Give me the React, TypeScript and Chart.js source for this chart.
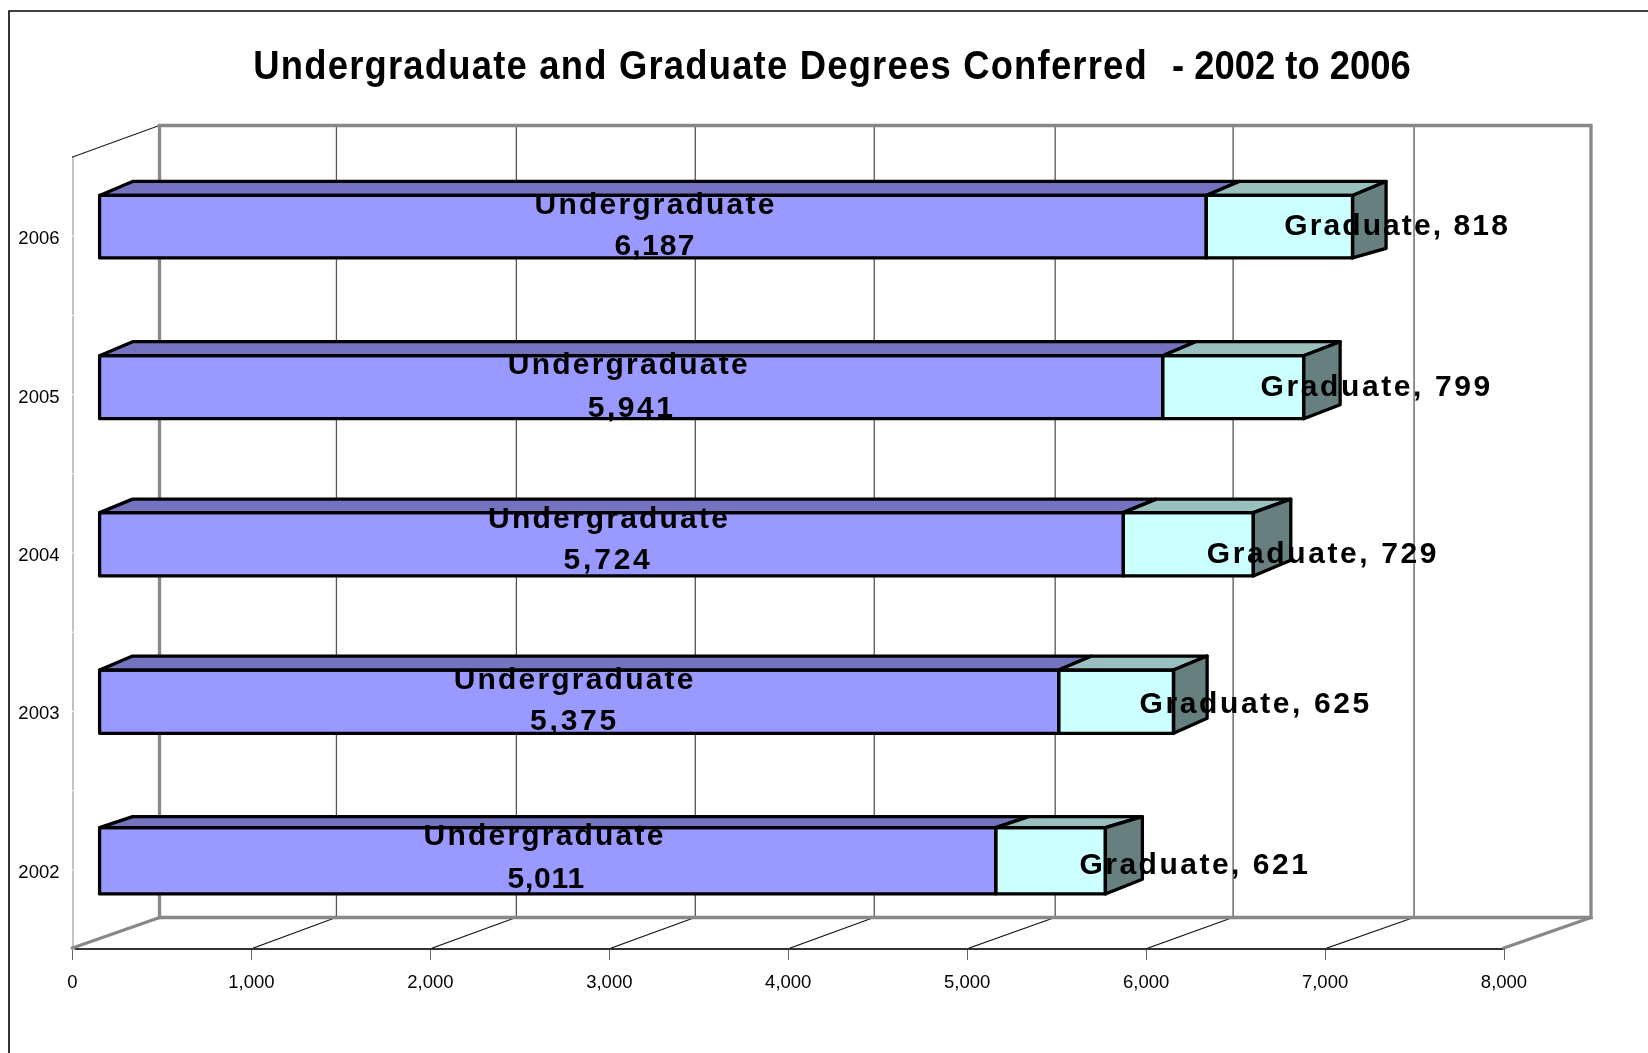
import React, { useEffect, useRef } from "react";
import { Chart, registerables } from "chart.js";

Chart.register(...registerables);

// ---- data ----
const years = ["2006", "2005", "2004", "2003", "2002"];
const undergraduate = [6187, 5941, 5724, 5375, 5011];
const graduate = [818, 799, 729, 625, 621];
const seriesNames = ["Undergraduate", "Graduate"];
const titleMain = "Undergraduate and Graduate Degrees Conferred";
const titleTail = "- 2002 to 2006";

// ---- layout tweaks (the original 3-D renderer is a little uneven per bar) ----
const FONT = '"Liberation Sans", Arial, sans-serif';
const WALL_DX = 87;
const WALL_DY = 31.5;
const BAR_SHIFT_X = 26.6;
const gridNudge = [0, -2, -1, -1, -1, 1, 0, 2, 0];
const barShiftY = [-9.5, -7.4, -8.7, -9.7, -9];
const barHeights = [62.5, 63, 63.3, 63.3, 66.3];
const ugEndNudge = [0, 0.5, 0, -2.2, 0];
const gradEndNudge = [0, -1.5, -0.5, 0.8, -1.5];
const depthTop = [14, 14, 13.5, 14, 11];
const depthEndBottom = [9.5, 14, 15.8, 15, 14.7];
const depthEndX = [33.5, 36.5, 37.5, 33.6, 37];
const ugLabelDx = [2.7, -2.3, -2.4, -4.5, -3.1];
const ugValueDx = [2.1, 0.5, -3.4, -4.6, -1.5];
const ugLabelDy = [0, 1, -4, 0, -2];
const ugWordDy = [0, -2, 0, 0, -2];
const ugValueSpacing = [1.2, 2.5, 2.8, 2.8, 0.8];
const gradLabelDx = [117.7, 143.5, 134.6, 139.6, 144.3];
const gradLabelDy = [0.5, 1, 10.7, 3.3, 5.2];
const gradSpacing = [2.1, 2.6, 2.6, 2.6, 2.5];

const fmt = (v: number) => v.toLocaleString("en-US");

function line(ctx: any, pts: number[][], color: string, width: number) {
  ctx.save();
  ctx.strokeStyle = color;
  ctx.lineWidth = width;
  ctx.lineJoin = "miter";
  ctx.lineCap = "square";
  ctx.beginPath();
  pts.forEach((p, i) => (i ? ctx.lineTo(p[0], p[1]) : ctx.moveTo(p[0], p[1])));
  ctx.stroke();
  ctx.restore();
}

function poly(ctx: any, pts: number[][], fill: string) {
  ctx.save();
  ctx.fillStyle = fill;
  ctx.strokeStyle = "#000";
  ctx.lineWidth = 3.3;
  ctx.lineJoin = "round";
  ctx.beginPath();
  pts.forEach((p, i) => (i ? ctx.lineTo(p[0], p[1]) : ctx.moveTo(p[0], p[1])));
  ctx.closePath();
  ctx.fill();
  ctx.stroke();
  ctx.restore();
}

function text(
  ctx: any,
  s: string,
  x: number,
  y: number,
  font: string,
  spacing: number,
  align: string,
  baseline: string,
  scaleX = 1
) {
  ctx.save();
  ctx.translate(x, y);
  ctx.scale(scaleX, 1);
  ctx.font = font;
  ctx.fillStyle = "#000";
  ctx.textAlign = align;
  ctx.textBaseline = baseline;
  ctx.letterSpacing = spacing + "px";
  ctx.fillText(s, 0, 0);
  ctx.restore();
}

const box3d = {
  id: "box3d",
  afterDatasetsUpdate(chart: any) {
    const ug = chart.getDatasetMeta(0).data;
    const gr = chart.getDatasetMeta(1).data;
    years.forEach((_, i) => {
      const a = ug[i];
      const b = gr[i];
      a.base += BAR_SHIFT_X;
      a.x += BAR_SHIFT_X + ugEndNudge[i];
      b.base += BAR_SHIFT_X + ugEndNudge[i];
      b.x += BAR_SHIFT_X + gradEndNudge[i];
      [a, b].forEach((el: any) => {
        el.y += barShiftY[i];
        el.height = barHeights[i];
      });
    });
  },
  beforeDraw(chart: any) {
    const ctx = chart.ctx;
    line(ctx, [[9, 1053], [9, 11], [1648, 11]], "#000", 1.6);
    text(ctx, titleMain, 253.3, 79, `bold 40px ${FONT}`, 1.33, "left", "alphabetic", 0.91);
    text(ctx, titleTail, 1172, 79, `bold 40px ${FONT}`, 0, "left", "alphabetic", 0.91);
  },
  beforeDatasetsDraw(chart: any) {
    const ctx = chart.ctx;
    const { left, right, top, bottom } = chart.chartArea;
    const xs = chart.scales.x;
    const wallL = left + WALL_DX;
    const wallR = right + WALL_DX;
    const wallT = top - WALL_DY;
    const wallB = bottom - WALL_DY;
    // white notches on the left axis
    const ys = chart.scales.y;
    const band = (ys.getPixelForTick(1) - ys.getPixelForTick(0)) / 2;
    ctx.save();
    ctx.fillStyle = "#fff";
    for (let i = 0; i < years.length; i++) {
      const py = ys.getPixelForTick(i);
      ctx.fillRect(left - 0.5, py - 0.5, 3, 1);
      ctx.fillRect(left - 0.5, py + band - 0.5, 3, 1);
    }
    ctx.restore();
    // back wall grid and floor
    xs.ticks.forEach((t: any, i: number) => {
      const px = xs.getPixelForValue(t.value);
      if (t.value > 0 && t.value < xs.max) {
        const gx = px + WALL_DX + gridNudge[i];
        line(ctx, [[gx, wallT], [gx, wallB]], "#555", 1.3);
        line(ctx, [[px + 2, bottom - 1], [gx - 3, wallB + 1]], "#111", 1.1);
      }
    });
    line(ctx, [[left, top], [wallL, wallT]], "#222", 1.1);
    line(ctx, [[left, bottom - 1], [wallL, wallB]], "#888", 3.3);
    line(ctx, [[right, bottom - 1], [wallR, wallB]], "#888", 3.3);
    line(ctx, [[wallL, wallB], [wallL, wallT], [wallR, wallT], [wallR, wallB], [wallL, wallB]], "#888", 3.3);
  },
  afterDatasetsDraw(chart: any) {
    const ctx = chart.ctx;
    const ug = chart.getDatasetMeta(0).data;
    const gr = chart.getDatasetMeta(1).data;
    years.forEach((_, i) => {
      const a = ug[i];
      const b = gr[i];
      const t = a.y - a.height / 2;
      const bm = a.y + a.height / 2;
      const x0 = a.base;
      const x1 = a.x;
      const x2 = b.x;
      const d = depthTop[i];
      const ex = depthEndX[i];
      poly(ctx, [[x0, t], [x0 + 33, t - d], [x1 + 33, t - d], [x1, t]], "#7373BF");
      poly(ctx, [[x1, t], [x1 + 33, t - d], [x2 + ex, t - d], [x2, t]], "#99BFBF");
      poly(ctx, [[x2, t], [x2 + ex, t - d], [x2 + ex, bm - depthEndBottom[i]], [x2, bm]], "#668080");
      ctx.save();
      ctx.strokeStyle = "#000";
      ctx.lineWidth = 3.3;
      ctx.lineJoin = "round";
      ctx.strokeRect(x0, t, x1 - x0, bm - t);
      ctx.strokeRect(x1, t, x2 - x1, bm - t);
      ctx.restore();
    });
    const font = `bold 30px ${FONT}`;
    years.forEach((_, i) => {
      const a = ug[i];
      const b = gr[i];
      const cx = (a.base + a.x) / 2;
      const cy = a.y + ugLabelDy[i];
      text(ctx, seriesNames[0], cx + ugLabelDx[i], cy - 20.5 + ugWordDy[i], font, 2.2, "center", "middle");
      text(ctx, fmt(undergraduate[i]), cx + ugValueDx[i], cy + 20.5, font, ugValueSpacing[i], "center", "middle");
      text(
        ctx,
        `${seriesNames[1]}, ${fmt(graduate[i])}`,
        (a.x + b.x) / 2 + gradLabelDx[i],
        a.y + gradLabelDy[i],
        font,
        gradSpacing[i],
        "center",
        "middle"
      );
    });
  },
};

export default function App() {
  const ref = useRef<HTMLCanvasElement>(null);
  useEffect(() => {
    const chart = new Chart(ref.current as HTMLCanvasElement, {
      type: "bar",
      data: {
        labels: years,
        datasets: [
          { label: seriesNames[0], data: undergraduate, backgroundColor: "#9999FF", borderWidth: 0 },
          { label: seriesNames[1], data: graduate, backgroundColor: "#CCFFFF", borderWidth: 0 },
        ],
      },
      options: {
        indexAxis: "y",
        responsive: false,
        animation: false,
        layout: { padding: { top: 157, right: 144, left: 0, bottom: 0 } },
        plugins: { legend: { display: false }, title: { display: false }, tooltip: { enabled: false } },
        datasets: { bar: { barThickness: 63 } },
        scales: {
          x: {
            type: "linear",
            stacked: true,
            min: 0,
            max: 8000,
            afterFit: (s: any) => {
              s.height = 104;
            },
            ticks: {
              stepSize: 1000,
              maxRotation: 0,
              padding: 12,
              color: "#000",
              font: { family: FONT, size: 18.5 },
              callback: (v: any) => fmt(Number(v)),
            },
            grid: { drawOnChartArea: false, drawTicks: true, tickLength: 11, color: "#666", lineWidth: 1 },
            border: { display: true, color: "#333", width: 2 },
          },
          y: {
            type: "category",
            stacked: true,
            afterFit: (s: any) => {
              s.width = 72.5;
            },
            ticks: {
              padding: 13,
              labelOffset: 3,
              color: "#000",
              font: { family: FONT, size: 18.5 },
            },
            grid: { display: false, drawTicks: false },
            border: { display: true, color: "#c4c4c4", width: 2 },
          },
        },
      },
      plugins: [box3d],
    } as any);
    return () => chart.destroy();
  }, []);
  return (
    <div style={{ position: "absolute", left: 0, top: 0, width: 1648, height: 1053, background: "#fff" }}>
      <canvas
        ref={ref}
        width={1648}
        height={1053}
        style={{ display: "block" }}
        aria-label={`${titleMain}  ${titleTail}`}
      />
    </div>
  );
}
